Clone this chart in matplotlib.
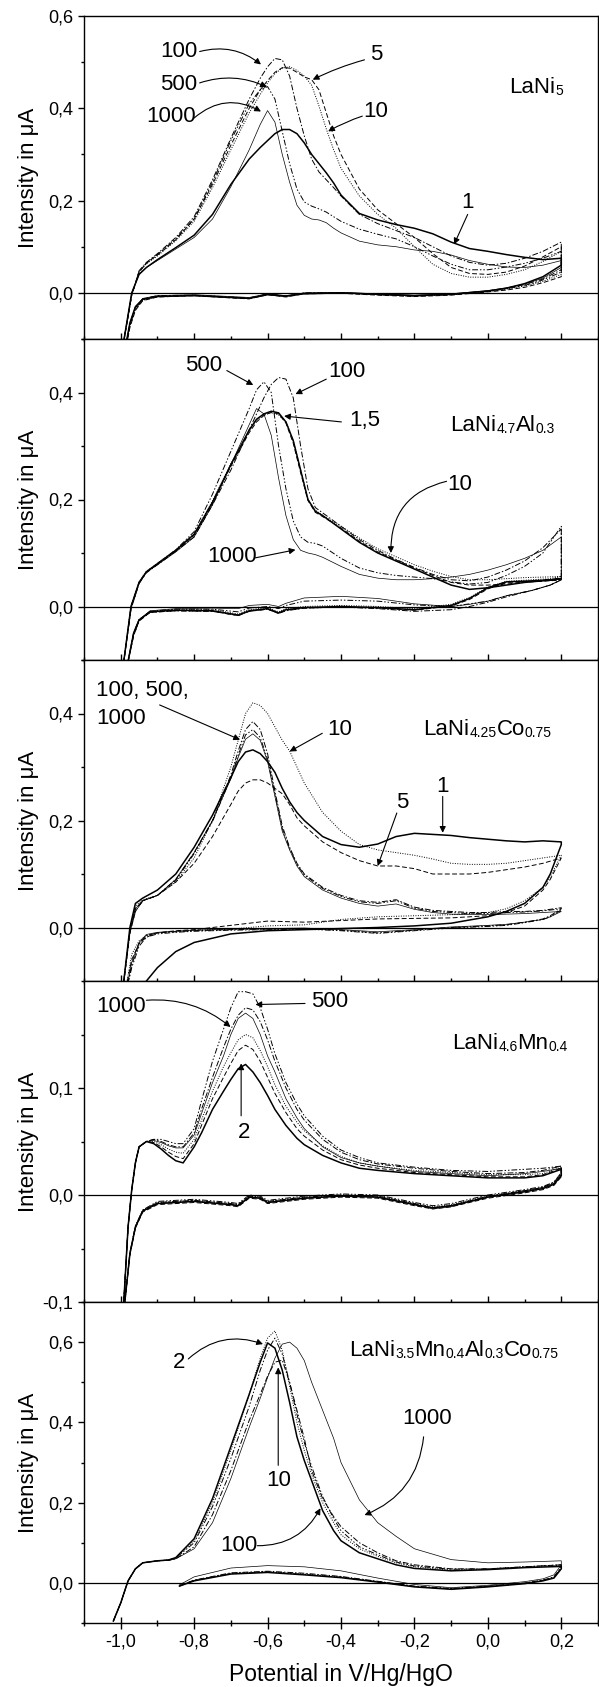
import matplotlib
matplotlib.use('Agg')
import matplotlib.pyplot as plt
from matplotlib.ticker import MultipleLocator, FixedLocator, FuncFormatter

plt.rcParams['font.family'] = ['Liberation Sans', 'DejaVu Sans']

# ---------------- panel 1: LaNi5 ----------------
P1_CYCLES = ['1', '5', '10', '100', '500', '1000']
P1_XA = [-0.995, -0.97, -0.95, -0.93, -0.9, -0.85, -0.8, -0.75, -0.7, -0.65, -0.62, -0.6,
         -0.58, -0.56, -0.54, -0.52, -0.5, -0.48, -0.46, -0.44, -0.42, -0.4, -0.35, -0.3,
         -0.25, -0.2, -0.15, -0.1, -0.05, 0.0, 0.05, 0.1, 0.15, 0.2]
P1_YA = [
    [-0.12, 0.0, 0.04, 0.055, 0.072, 0.098, 0.125, 0.17, 0.235, 0.29, 0.315, 0.33, 0.345, 0.354,
     0.354, 0.345, 0.325, 0.3, 0.28, 0.26, 0.238, 0.212, 0.172, 0.158, 0.148, 0.14, 0.128, 0.11,
     0.096, 0.09, 0.083, 0.077, 0.072, 0.075],
    [-0.12, -0.005, 0.045, 0.065, 0.082, 0.115, 0.16, 0.235, 0.32, 0.4, 0.44, 0.46, 0.478, 0.488,
     0.487, 0.478, 0.468, 0.462, 0.44, 0.39, 0.34, 0.3, 0.225, 0.18, 0.15, 0.12, 0.085, 0.055,
     0.042, 0.04, 0.045, 0.058, 0.078, 0.1],
    [-0.12, -0.005, 0.045, 0.063, 0.08, 0.113, 0.155, 0.228, 0.31, 0.39, 0.43, 0.455, 0.475, 0.487,
     0.49, 0.482, 0.47, 0.45, 0.405, 0.355, 0.31, 0.27, 0.21, 0.17, 0.14, 0.1, 0.062, 0.042,
     0.034, 0.034, 0.04, 0.05, 0.068, 0.09],
    [-0.12, -0.005, 0.048, 0.066, 0.085, 0.12, 0.165, 0.245, 0.335, 0.42, 0.465, 0.49, 0.508, 0.505,
     0.47, 0.4, 0.34, 0.29, 0.262, 0.245, 0.228, 0.21, 0.17, 0.15, 0.135, 0.12, 0.1, 0.08,
     0.066, 0.06, 0.064, 0.075, 0.09, 0.11],
    [-0.12, -0.005, 0.046, 0.064, 0.083, 0.117, 0.16, 0.24, 0.33, 0.41, 0.44, 0.447, 0.42, 0.35,
     0.28, 0.225, 0.197, 0.188, 0.182, 0.175, 0.165, 0.155, 0.138, 0.127, 0.117, 0.1, 0.08, 0.062,
     0.05, 0.05, 0.056, 0.064, 0.075, 0.09],
    [-0.12, 0.0, 0.04, 0.055, 0.07, 0.095, 0.12, 0.16, 0.23, 0.31, 0.365, 0.395, 0.37, 0.3,
     0.24, 0.19, 0.168, 0.16, 0.158, 0.152, 0.14, 0.13, 0.112, 0.104, 0.1, 0.093, 0.09, 0.082,
     0.07, 0.062, 0.056, 0.055, 0.06, 0.07],
]
P1_XC = [0.2, 0.15, 0.1, 0.05, 0.0, -0.1, -0.2, -0.3, -0.4, -0.5, -0.55, -0.6, -0.65, -0.7,
         -0.8, -0.9, -0.94, -0.96, -0.975, -0.99]
P1_YC = [
    [0.06, 0.035, 0.02, 0.01, 0.004, -0.003, -0.006, -0.003, 0.0, -0.002, -0.007, -0.004, -0.012, -0.01, -0.006, -0.008, -0.014, -0.03, -0.065, -0.13],
    [0.035, 0.022, 0.012, 0.006, 0.002, -0.005, -0.008, -0.005, -0.001, -0.002, -0.009, -0.004, -0.013, -0.011, -0.006, -0.009, -0.017, -0.038, -0.075, -0.14],
    [0.04, 0.025, 0.015, 0.008, 0.003, -0.004, -0.007, -0.004, 0.0, -0.001, -0.008, -0.003, -0.012, -0.01, -0.005, -0.008, -0.016, -0.036, -0.072, -0.14],
    [0.05, 0.03, 0.018, 0.01, 0.004, -0.003, -0.006, -0.003, 0.0, 0.0, -0.007, -0.002, -0.011, -0.009, -0.005, -0.006, -0.013, -0.032, -0.068, -0.13],
    [0.045, 0.028, 0.016, 0.009, 0.003, -0.004, -0.007, -0.004, 0.0, -0.001, -0.008, -0.003, -0.012, -0.01, -0.006, -0.007, -0.015, -0.034, -0.07, -0.13],
    [0.055, 0.032, 0.019, 0.011, 0.005, -0.002, -0.005, -0.002, 0.001, 0.0, -0.006, -0.002, -0.01, -0.008, -0.004, -0.006, -0.012, -0.03, -0.066, -0.13],
]

# ---------------- panel 2: LaNi4.7Al0.3 ----------------
P2_CYCLES = ['1', '5', '10', '100', '500', '1000']
P2_XA = [-0.995, -0.972, -0.95, -0.93, -0.9, -0.85, -0.8, -0.75, -0.7, -0.65, -0.63, -0.61,
         -0.59, -0.57, -0.55, -0.53, -0.51, -0.49, -0.47, -0.45, -0.4, -0.35, -0.3, -0.25,
         -0.2, -0.15, -0.1, -0.05, 0.0, 0.05, 0.1, 0.15, 0.2]
P2_YA = [
    [-0.12, 0.0, 0.045, 0.065, 0.08, 0.105, 0.135, 0.195, 0.265, 0.33, 0.35, 0.36, 0.365, 0.362,
     0.345, 0.31, 0.255, 0.2, 0.178, 0.17, 0.145, 0.12, 0.1, 0.085, 0.07, 0.055, 0.04, 0.032,
     0.035, 0.04, 0.045, 0.048, 0.052],
    [-0.12, 0.0, 0.044, 0.064, 0.079, 0.104, 0.133, 0.193, 0.262, 0.325, 0.345, 0.357, 0.363, 0.36,
     0.343, 0.305, 0.25, 0.198, 0.176, 0.168, 0.147, 0.122, 0.102, 0.087, 0.072, 0.058, 0.045,
     0.04, 0.04, 0.042, 0.045, 0.048, 0.05],
    [-0.12, 0.0, 0.046, 0.066, 0.081, 0.106, 0.136, 0.197, 0.267, 0.328, 0.348, 0.358, 0.362, 0.358,
     0.345, 0.31, 0.255, 0.2, 0.18, 0.17, 0.15, 0.128, 0.108, 0.093, 0.078, 0.066, 0.056, 0.05,
     0.05, 0.052, 0.054, 0.055, 0.056],
    [-0.12, -0.005, 0.043, 0.063, 0.078, 0.103, 0.13, 0.19, 0.255, 0.33, 0.36, 0.39, 0.415, 0.428,
     0.425, 0.39, 0.3, 0.22, 0.185, 0.175, 0.15, 0.125, 0.105, 0.088, 0.073, 0.06, 0.05, 0.048,
     0.055, 0.068, 0.085, 0.11, 0.145],
    [-0.12, -0.005, 0.043, 0.064, 0.08, 0.106, 0.14, 0.21, 0.29, 0.37, 0.405, 0.42, 0.4, 0.3,
     0.22, 0.16, 0.13, 0.12, 0.118, 0.113, 0.09, 0.072, 0.063, 0.058, 0.055, 0.052, 0.046, 0.042,
     0.045, 0.058, 0.075, 0.1, 0.15],
    [-0.12, 0.0, 0.045, 0.064, 0.078, 0.102, 0.13, 0.19, 0.265, 0.34, 0.37, 0.36, 0.32, 0.24,
     0.17, 0.125, 0.105, 0.1, 0.097, 0.092, 0.075, 0.06, 0.053, 0.05, 0.05, 0.052, 0.055, 0.06,
     0.068, 0.078, 0.09, 0.105, 0.13],
]
P2_XC = [0.2, 0.17, 0.12, 0.05, 0.0, -0.05, -0.1, -0.2, -0.3, -0.4, -0.5, -0.55, -0.57, -0.6,
         -0.65, -0.68, -0.75, -0.85, -0.92, -0.95, -0.965, -0.985]
P2_YC = [
    [0.052, 0.05, 0.048, 0.046, 0.035, 0.015, 0.002, -0.006, -0.002, 0.0, -0.002, -0.006, -0.012, -0.004, -0.008, -0.016, -0.008, -0.007, -0.01, -0.025, -0.05, -0.12],
    [0.05, 0.048, 0.047, 0.045, 0.033, 0.013, 0.001, -0.007, -0.003, -0.001, -0.003, -0.007, -0.013, -0.005, -0.009, -0.017, -0.009, -0.008, -0.011, -0.027, -0.055, -0.12],
    [0.056, 0.052, 0.05, 0.047, 0.036, 0.017, 0.004, -0.004, 0.0, 0.002, 0.0, -0.004, -0.01, -0.002, -0.006, -0.014, -0.006, -0.006, -0.009, -0.024, -0.05, -0.12],
    [0.05, 0.04, 0.03, 0.018, 0.008, 0.0, -0.006, -0.009, -0.004, -0.001, -0.003, -0.008, -0.013, -0.005, -0.009, -0.017, -0.009, -0.008, -0.011, -0.027, -0.055, -0.12],
    [0.05, 0.04, 0.03, 0.02, 0.01, 0.005, 0.0, 0.003, 0.01, 0.012, 0.01, 0.002, -0.004, 0.0, -0.003, -0.01, -0.005, -0.005, -0.009, -0.025, -0.05, -0.12],
    [0.05, 0.04, 0.03, 0.02, 0.01, 0.004, 0.0, 0.005, 0.015, 0.019, 0.016, 0.006, 0.0, 0.004, 0.002, -0.004, -0.003, -0.004, -0.008, -0.025, -0.05, -0.12],
]

# ---------------- panel 3: LaNi4.25Co0.75 ----------------
P3_CYCLES = ['1', '5', '10', '100', '500', '1000']
P3_XA = [-0.995, -0.975, -0.96, -0.94, -0.9, -0.85, -0.8, -0.75, -0.7, -0.68, -0.66, -0.64,
         -0.62, -0.6, -0.58, -0.56, -0.54, -0.52, -0.5, -0.45, -0.4, -0.35, -0.3, -0.25,
         -0.2, -0.15, -0.1, -0.05, 0.0, 0.05, 0.1, 0.15, 0.2]
P3_YA = [
    [-0.12, 0.0, 0.045, 0.055, 0.07, 0.1, 0.15, 0.21, 0.28, 0.31, 0.328, 0.332, 0.325, 0.31,
     0.29, 0.26, 0.235, 0.215, 0.2, 0.17, 0.155, 0.15, 0.156, 0.17, 0.176, 0.174, 0.172, 0.168,
     0.165, 0.162, 0.16, 0.162, 0.16],
    [-0.12, -0.01, 0.035, 0.05, 0.06, 0.085, 0.12, 0.17, 0.23, 0.255, 0.27, 0.276, 0.276, 0.27,
     0.26, 0.25, 0.23, 0.205, 0.19, 0.16, 0.14, 0.125, 0.115, 0.115, 0.11, 0.1, 0.1, 0.1,
     0.103, 0.108, 0.113, 0.12, 0.13],
    [-0.12, -0.005, 0.04, 0.052, 0.06, 0.085, 0.13, 0.2, 0.3, 0.35, 0.4, 0.42, 0.415, 0.4,
     0.375, 0.35, 0.33, 0.3, 0.27, 0.215, 0.18, 0.155, 0.145, 0.14, 0.135, 0.128, 0.12, 0.118,
     0.118, 0.12, 0.125, 0.13, 0.135],
    [-0.12, -0.01, 0.03, 0.05, 0.06, 0.09, 0.14, 0.2, 0.285, 0.33, 0.37, 0.385, 0.37, 0.325,
     0.255, 0.19, 0.15, 0.12, 0.1, 0.075, 0.06, 0.05, 0.047, 0.052, 0.038, 0.032, 0.03, 0.028,
     0.028, 0.03, 0.03, 0.032, 0.037],
    [-0.12, -0.01, 0.03, 0.05, 0.06, 0.088, 0.138, 0.198, 0.28, 0.322, 0.36, 0.37, 0.355, 0.315,
     0.25, 0.185, 0.148, 0.118, 0.098, 0.073, 0.058, 0.048, 0.045, 0.05, 0.036, 0.03, 0.028,
     0.026, 0.026, 0.028, 0.029, 0.031, 0.035],
    [-0.12, -0.005, 0.035, 0.05, 0.06, 0.09, 0.14, 0.2, 0.278, 0.318, 0.352, 0.362, 0.35, 0.31,
     0.245, 0.18, 0.145, 0.115, 0.095, 0.07, 0.055, 0.045, 0.04, 0.044, 0.034, 0.028, 0.025,
     0.024, 0.024, 0.025, 0.026, 0.028, 0.03],
]
P3_XC = [0.2, 0.17, 0.15, 0.1, 0.05, 0.0, -0.1, -0.2, -0.3, -0.4, -0.5, -0.6, -0.7, -0.8,
         -0.85, -0.9, -0.93, -0.95, -0.97, -0.985]
P3_YC = [
    [0.155, 0.1, 0.075, 0.045, 0.03, 0.02, 0.008, 0.003, 0.0, -0.002, -0.004, -0.006, -0.012, -0.028, -0.045, -0.075, -0.1, -0.12, -0.14, -0.15],
    [0.13, 0.09, 0.07, 0.04, 0.028, 0.022, 0.018, 0.017, 0.016, 0.013, 0.01, 0.012, 0.004, -0.004, -0.006, -0.01, -0.018, -0.03, -0.06, -0.11],
    [0.135, 0.095, 0.075, 0.05, 0.035, 0.028, 0.024, 0.022, 0.02, 0.015, 0.005, 0.003, -0.003, -0.005, -0.007, -0.01, -0.015, -0.025, -0.05, -0.11],
    [0.035, 0.022, 0.016, 0.01, 0.005, 0.003, 0.0, -0.005, -0.01, -0.005, -0.002, -0.003, -0.004, -0.006, -0.008, -0.01, -0.015, -0.03, -0.07, -0.12],
    [0.033, 0.02, 0.015, 0.009, 0.004, 0.002, -0.001, -0.006, -0.011, -0.006, -0.003, -0.004, -0.005, -0.007, -0.009, -0.012, -0.018, -0.035, -0.075, -0.12],
    [0.03, 0.02, 0.015, 0.01, 0.006, 0.004, 0.001, -0.004, -0.008, -0.004, -0.001, -0.002, -0.003, -0.005, -0.007, -0.009, -0.013, -0.028, -0.065, -0.12],
]

# ---------------- panel 4: LaNi4.6Mn0.4 ----------------
P4_CYCLES = ['2', '5', '10', '100', '500', '1000']
P4_XA = [-0.995, -0.98, -0.97, -0.96, -0.95, -0.93, -0.91, -0.89, -0.87, -0.85, -0.83, -0.8,
         -0.78, -0.75, -0.72, -0.7, -0.68, -0.66, -0.64, -0.62, -0.6, -0.58, -0.55, -0.52,
         -0.5, -0.45, -0.4, -0.35, -0.3, -0.2, -0.1, 0.0, 0.1, 0.15, 0.2]
P4_YA = [
    [-0.12, -0.03, 0.005, 0.03, 0.045, 0.05, 0.048, 0.043, 0.037, 0.032, 0.03, 0.045, 0.058,
     0.08, 0.097, 0.108, 0.118, 0.122, 0.115, 0.105, 0.093, 0.08, 0.065, 0.053, 0.047, 0.037,
     0.03, 0.025, 0.023, 0.02, 0.018, 0.016, 0.016, 0.018, 0.024],
    [-0.12, -0.03, 0.005, 0.03, 0.045, 0.05, 0.049, 0.045, 0.04, 0.036, 0.034, 0.048, 0.065,
     0.09, 0.11, 0.123, 0.135, 0.14, 0.136, 0.125, 0.11, 0.095, 0.077, 0.062, 0.055, 0.042,
     0.033, 0.028, 0.025, 0.021, 0.019, 0.017, 0.017, 0.019, 0.025],
    [-0.12, -0.03, 0.005, 0.03, 0.045, 0.05, 0.05, 0.047, 0.043, 0.04, 0.039, 0.052, 0.07,
     0.097, 0.12, 0.133, 0.145, 0.15, 0.147, 0.135, 0.12, 0.103, 0.083, 0.068, 0.06, 0.046,
     0.036, 0.03, 0.027, 0.023, 0.021, 0.019, 0.019, 0.02, 0.026],
    [-0.12, -0.03, 0.005, 0.03, 0.045, 0.05, 0.052, 0.05, 0.047, 0.045, 0.045, 0.058, 0.08,
     0.11, 0.138, 0.155, 0.168, 0.175, 0.173, 0.162, 0.145, 0.125, 0.1, 0.08, 0.07, 0.052,
     0.04, 0.033, 0.029, 0.025, 0.022, 0.02, 0.021, 0.023, 0.027],
    [-0.12, -0.03, 0.005, 0.03, 0.045, 0.05, 0.052, 0.052, 0.05, 0.048, 0.048, 0.062, 0.088,
     0.125, 0.155, 0.175, 0.19, 0.19, 0.188, 0.175, 0.155, 0.132, 0.105, 0.085, 0.074, 0.055,
     0.042, 0.035, 0.03, 0.026, 0.023, 0.022, 0.024, 0.025, 0.027],
    [-0.12, -0.03, 0.005, 0.03, 0.045, 0.05, 0.051, 0.049, 0.046, 0.044, 0.044, 0.056, 0.076,
     0.105, 0.13, 0.15, 0.165, 0.17, 0.165, 0.15, 0.13, 0.115, 0.09, 0.072, 0.062, 0.045,
     0.035, 0.03, 0.027, 0.022, 0.02, 0.018, 0.02, 0.022, 0.025],
]
P4_XC = [0.2, 0.18, 0.15, 0.1, 0.0, -0.1, -0.15, -0.2, -0.3, -0.4, -0.5, -0.6, -0.62, -0.65,
         -0.68, -0.7, -0.8, -0.9, -0.94, -0.96, -0.975, -0.995]
P4_YC = [
    [0.018, 0.01, 0.006, 0.003, -0.002, -0.01, -0.012, -0.009, -0.002, -0.001, -0.003, -0.007, -0.003, -0.002, -0.01, -0.009, -0.006, -0.008, -0.015, -0.03, -0.055, -0.12],
    [0.017, 0.009, 0.005, 0.002, -0.003, -0.011, -0.013, -0.01, -0.003, -0.002, -0.004, -0.008, -0.004, -0.003, -0.011, -0.01, -0.007, -0.009, -0.016, -0.031, -0.056, -0.12],
    [0.019, 0.011, 0.007, 0.004, -0.001, -0.009, -0.011, -0.008, -0.001, 0.0, -0.002, -0.006, -0.002, -0.001, -0.009, -0.008, -0.005, -0.007, -0.014, -0.029, -0.054, -0.12],
    [0.02, 0.012, 0.007, 0.004, -0.001, -0.01, -0.012, -0.008, -0.001, 0.0, -0.002, -0.006, -0.002, -0.001, -0.009, -0.008, -0.005, -0.007, -0.015, -0.03, -0.055, -0.12],
    [0.021, 0.012, 0.008, 0.005, 0.0, -0.008, -0.01, -0.007, 0.0, 0.001, -0.001, -0.005, -0.001, 0.0, -0.008, -0.007, -0.004, -0.006, -0.014, -0.029, -0.054, -0.12],
    [0.019, 0.011, 0.007, 0.004, -0.002, -0.011, -0.013, -0.009, -0.002, -0.001, -0.003, -0.007, -0.003, -0.002, -0.01, -0.009, -0.006, -0.008, -0.015, -0.03, -0.055, -0.12],
]

# ---------------- panel 5: LaNi3.5Mn0.4Al0.3Co0.75 ----------------
P5_CYCLES = ['2', '10', '100', '500', '1000']
P5_XA = [-1.02, -1.0, -0.98, -0.96, -0.94, -0.9, -0.87, -0.85, -0.8, -0.75, -0.7, -0.65, -0.62,
         -0.6, -0.58, -0.56, -0.54, -0.52, -0.5, -0.48, -0.45, -0.42, -0.4, -0.35, -0.3, -0.25,
         -0.2, -0.1, 0.0, 0.1, 0.2]
P5_YA = [
    [-0.095, -0.05, 0.005, 0.035, 0.05, 0.055, 0.057, 0.063, 0.11, 0.21, 0.34, 0.47, 0.55, 0.598,
     0.585, 0.53, 0.45, 0.364, 0.305, 0.255, 0.18, 0.13, 0.105, 0.075, 0.06, 0.045, 0.036, 0.03,
     0.033, 0.038, 0.041],
    [-0.095, -0.05, 0.005, 0.035, 0.05, 0.055, 0.057, 0.062, 0.105, 0.2, 0.33, 0.47, 0.56, 0.61,
     0.628, 0.58, 0.49, 0.4, 0.33, 0.27, 0.2, 0.15, 0.12, 0.085, 0.066, 0.05, 0.04, 0.032, 0.034,
     0.04, 0.044],
    [-0.095, -0.05, 0.005, 0.035, 0.05, 0.055, 0.056, 0.06, 0.09, 0.17, 0.28, 0.405, 0.47, 0.515,
     0.55, 0.555, 0.5, 0.43, 0.36, 0.28, 0.21, 0.165, 0.14, 0.1, 0.075, 0.055, 0.045, 0.035,
     0.035, 0.04, 0.045],
    [-0.095, -0.05, 0.005, 0.035, 0.05, 0.055, 0.057, 0.062, 0.1, 0.19, 0.31, 0.44, 0.53, 0.58,
     0.61, 0.57, 0.5, 0.42, 0.35, 0.29, 0.215, 0.16, 0.13, 0.09, 0.07, 0.052, 0.042, 0.034,
     0.035, 0.04, 0.045],
    [-0.095, -0.05, 0.005, 0.035, 0.05, 0.055, 0.056, 0.06, 0.085, 0.15, 0.26, 0.388, 0.46, 0.512,
     0.56, 0.595, 0.6, 0.585, 0.554, 0.5, 0.43, 0.36, 0.3, 0.207, 0.15, 0.116, 0.085, 0.058,
     0.05, 0.052, 0.055],
]
P5_XC = [0.2, 0.18, 0.15, 0.1, 0.0, -0.1, -0.2, -0.3, -0.4, -0.5, -0.6, -0.7, -0.8, -0.84]
P5_YC = [
    [0.035, 0.012, 0.005, -0.002, -0.01, -0.016, -0.01, 0.002, 0.013, 0.02, 0.026, 0.022, 0.005, -0.008],
    [0.038, 0.013, 0.006, -0.001, -0.009, -0.015, -0.009, 0.003, 0.015, 0.022, 0.028, 0.024, 0.006, -0.007],
    [0.04, 0.015, 0.007, 0.0, -0.008, -0.014, -0.008, 0.004, 0.016, 0.024, 0.029, 0.025, 0.007, -0.007],
    [0.038, 0.014, 0.006, -0.001, -0.009, -0.015, -0.009, 0.003, 0.014, 0.021, 0.027, 0.023, 0.006, -0.008],
    [0.045, 0.02, 0.01, 0.003, -0.006, -0.012, -0.004, 0.012, 0.03, 0.04, 0.043, 0.037, 0.015, -0.005],
]

# alloy names as (main, subscript) pieces
NAMES = [
    [('LaNi', '5')],
    [('LaNi', '4.7'), ('Al', '0.3')],
    [('LaNi', '4.25'), ('Co', '0.75')],
    [('LaNi', '4.6'), ('Mn', '0.4')],
    [('LaNi', '3.5'), ('Mn', '0.4'), ('Al', '0.3'), ('Co', '0.75')],
]

# line style per cycle number (Origin-like)
STYLES = {
    '1': ('-', 1.1), '2': ('-', 1.1),
    '5': ((0, (5, 2.5)), 0.7),
    '10': ((0, (1, 1.5)), 0.7),
    '100': ((0, (6, 2, 1.5, 2)), 0.7),
    '500': ((0, (6, 2, 1.5, 2, 1.5, 2)), 0.7),
    '1000': ('-', 0.5),
}


def comma(v, pos):
    if abs(v) < 1e-9:
        v = 0.0
    return f'{v:.1f}'.replace('.', ',')


def draw_cycles(ax, cycles, xa, ya, xc, yc):
    for c, ys_a, ys_c in zip(cycles, ya, yc):
        ls, lw = STYLES[c]
        ax.plot(list(xa) + list(xc), list(ys_a) + list(ys_c), color='k', ls=ls, lw=lw)


def arrow(ax, start, end, rad=0.0):
    ax.annotate('', xy=end, xytext=start,
                arrowprops=dict(arrowstyle='-|>', color='k', lw=0.8, mutation_scale=9,
                                shrinkA=0, shrinkB=0, connectionstyle=f'arc3,rad={rad}'))


def label(ax, s, x, y, **kw):
    ax.text(x, y, s, fontsize=16, ha='center', va='center', **kw)


def formula(ax, x, y, parts, size=16, subsize=10):
    first = None
    prev = None
    for main, sub in parts:
        if first is None:
            t = ax.text(x, y, main, fontsize=size, ha='left', va='center')
            first = t
        else:
            t = ax.annotate(main, xy=(1, 0), xycoords=(prev, first), fontsize=size,
                            ha='left', va='bottom')
        prev = ax.annotate(sub, xy=(1, 0), xycoords=t, fontsize=subsize,
                           ha='left', va='bottom')


fig = plt.figure(figsize=(5.99, 16.87), dpi=100)
H = 1687.0
tops = [16, 339, 660, 981, 1302]
bots = [339, 660, 981, 1302, 1623]
left, width = 84 / 599, 514 / 599
ylims = [(-0.1, 0.6), (-0.1, 0.5), (-0.1, 0.5), (-0.1, 0.2), (-0.1, 0.7)]

axes = []
for i in range(5):
    ax = fig.add_axes([left, 1 - bots[i] / H, width, (bots[i] - tops[i]) / H])
    ax.set_xlim(-1.1, 0.3)
    ax.set_ylim(*ylims[i])
    ax.axhline(0, color='k', lw=0.9)
    ax.xaxis.set_major_locator(MultipleLocator(0.2))
    ax.xaxis.set_minor_locator(MultipleLocator(0.1))
    ax.xaxis.set_major_formatter(FuncFormatter(comma))
    if i == 3:
        ax.yaxis.set_major_locator(FixedLocator([-0.1, 0.0, 0.1]))
        ax.yaxis.set_minor_locator(FixedLocator([-0.05, 0.05, 0.15]))
    else:
        ax.yaxis.set_major_locator(MultipleLocator(0.2))
        ax.yaxis.set_minor_locator(MultipleLocator(0.1))
    ax.yaxis.set_major_formatter(FuncFormatter(comma))
    ax.tick_params(axis='x', which='major', direction='inout', length=9, width=1, labelsize=13, pad=3)
    ax.tick_params(axis='x', which='minor', direction='inout', length=5, width=1)
    ax.tick_params(axis='y', which='major', direction='out', length=4.5, width=1, labelsize=13, pad=3)
    ax.tick_params(axis='y', which='minor', direction='out', length=2.5, width=1)
    if i < 4:
        ax.tick_params(axis='x', labelbottom=False)
    for sp in ax.spines.values():
        sp.set_linewidth(1.0)
    ax.set_ylabel('Intensity in μA', fontsize=16)
    ax.yaxis.set_label_coords(-0.088, 0.5)
    axes.append(ax)

ax1, ax2, ax3, ax4, ax5 = axes

# panel 1
draw_cycles(ax1, P1_CYCLES, P1_XA, P1_YA, P1_XC, P1_YC)
label(ax1, '100', -0.842, 0.523)
label(ax1, '500', -0.842, 0.451)
label(ax1, '1000', -0.862, 0.383)
label(ax1, '5', -0.305, 0.516)
label(ax1, '10', -0.305, 0.393)
label(ax1, '1', -0.055, 0.195)
formula(ax1, 0.059, 0.444, NAMES[0])
arrow(ax1, (-0.785, 0.523), (-0.618, 0.495), -0.25)
arrow(ax1, (-0.785, 0.455), (-0.602, 0.446), -0.2)
arrow(ax1, (-0.80, 0.379), (-0.618, 0.393), -0.35)
arrow(ax1, (-0.336, 0.505), (-0.477, 0.462), 0.05)
arrow(ax1, (-0.342, 0.383), (-0.435, 0.35), 0.05)
arrow(ax1, (-0.055, 0.17), (-0.092, 0.105))

# panel 2
draw_cycles(ax2, P2_CYCLES, P2_XA, P2_YA, P2_XC, P2_YC)
label(ax2, '500', -0.774, 0.45)
label(ax2, '100', -0.383, 0.44)
label(ax2, '1,5', -0.336, 0.347)
label(ax2, '10', -0.076, 0.228)
label(ax2, '1000', -0.696, 0.094)
formula(ax2, -0.102, 0.3375, NAMES[1])
arrow(ax2, (-0.711, 0.441), (-0.639, 0.414))
arrow(ax2, (-0.44, 0.425), (-0.524, 0.397))
arrow(ax2, (-0.399, 0.345), (-0.555, 0.356))
arrow(ax2, (-0.1125, 0.234), (-0.264, 0.1), 0.4)
arrow(ax2, (-0.633, 0.091), (-0.524, 0.106))

# panel 3
draw_cycles(ax3, P3_CYCLES, P3_XA, P3_YA, P3_XC, P3_YC)
ax3.text(-1.066, 0.4175, '100, 500,\n1000', fontsize=16, ha='left', va='center', linespacing=1.45)
label(ax3, '10', -0.404, 0.37)
label(ax3, '1', -0.123, 0.264)
label(ax3, '5', -0.232, 0.233)
formula(ax3, -0.175, 0.37, NAMES[2])
arrow(ax3, (-0.894, 0.416), (-0.675, 0.351))
arrow(ax3, (-0.451, 0.363), (-0.54, 0.329))
arrow(ax3, (-0.123, 0.245), (-0.123, 0.177))
arrow(ax3, (-0.248, 0.214), (-0.30, 0.115))

# panel 4
draw_cycles(ax4, P4_CYCLES, P4_XA, P4_YA, P4_XC, P4_YC)
label(ax4, '1000', -0.998, 0.176)
label(ax4, '500', -0.43, 0.181)
label(ax4, '2', -0.665, 0.058)
formula(ax4, -0.097, 0.142, NAMES[3])
arrow(ax4, (-0.93, 0.182), (-0.701, 0.157), -0.2)
arrow(ax4, (-0.498, 0.179), (-0.633, 0.178))
arrow(ax4, (-0.672, 0.074), (-0.672, 0.123))

# panel 5
draw_cycles(ax5, P5_CYCLES, P5_XA, P5_YA, P5_XC, P5_YC)
label(ax5, '2', -0.842, 0.55)
label(ax5, '10', -0.571, 0.256)
label(ax5, '1000', -0.165, 0.409)
label(ax5, '100', -0.679, 0.0926)
formula(ax5, -0.378, 0.579, NAMES[4])
arrow(ax5, (-0.816, 0.558), (-0.6125, 0.595), -0.3)
arrow(ax5, (-0.571, 0.293), (-0.571, 0.537))
arrow(ax5, (-0.175, 0.364), (-0.336, 0.169), -0.3)
arrow(ax5, (-0.628, 0.0926), (-0.456, 0.186), 0.3)
ax5.tick_params(axis='x', labelbottom=True)
ax5.set_xlabel('Potential in V/Hg/HgO', fontsize=16.5)
ax5.xaxis.set_label_coords(0.5, -0.125)

fig.savefig('out.png', dpi=100)
